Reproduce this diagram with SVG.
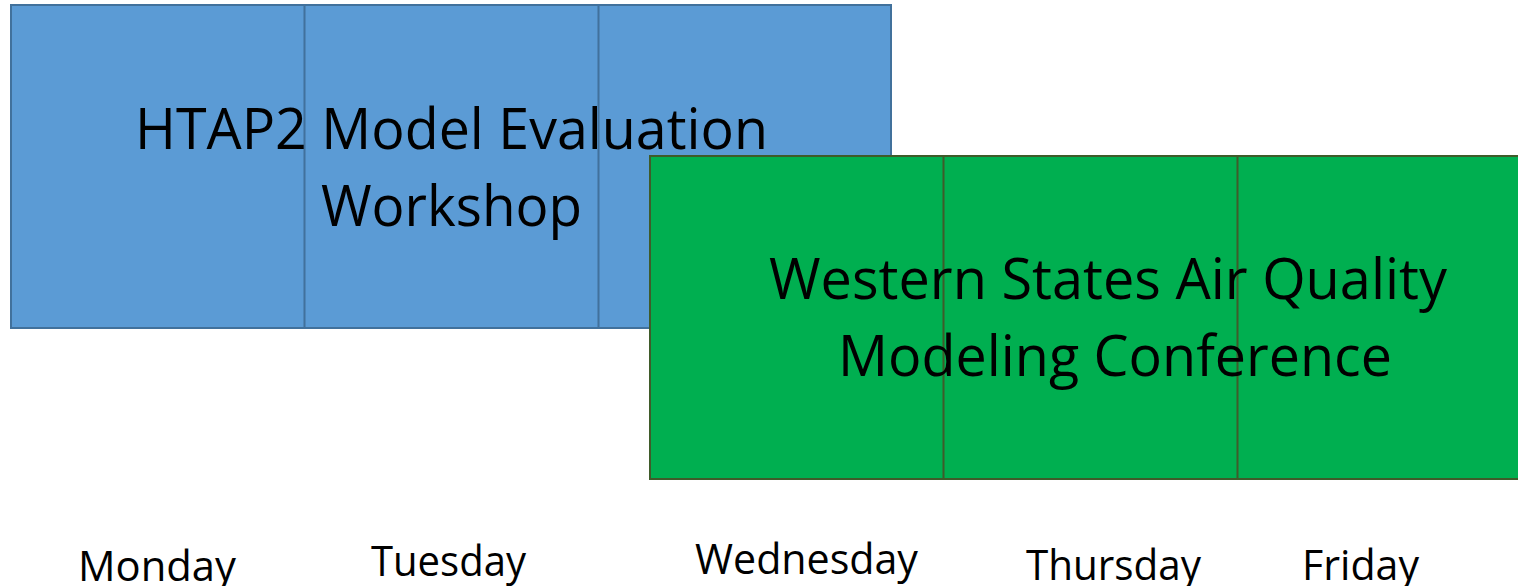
<svg xmlns="http://www.w3.org/2000/svg" width="1518" height="586" viewBox="0 0 1518 586">
  <style>
    .blue { fill: #5B9BD5; stroke: #41719C; stroke-width: 2; }
    .green { fill: #00AF50; stroke: #3F5B2A; stroke-width: 2; }
    .divb { stroke: #41719C; stroke-width: 2; }
    .divg { stroke: #3F5B2A; stroke-width: 2; }
    text { font-family: "Open Sans", "Liberation Sans", sans-serif; fill: #000; }
    .title { font-size: 57px; }
    .day { font-size: 42px; }
  </style>
  <rect width="1518" height="586" fill="#FFFFFF"/>

  <!-- HTAP2 workshop block: Monday to Wednesday -->
  <g id="htap2-workshop">
    <rect class="blue" x="11" y="5" width="880" height="323"/>
    <line class="divb" x1="304.5" y1="5" x2="304.5" y2="328"/>
    <line class="divb" x1="598.5" y1="5" x2="598.5" y2="328"/>
    <text class="title" x="135" y="149" textLength="633" lengthAdjust="spacingAndGlyphs">HTAP2 Model Evaluation</text>
    <text class="title" x="321" y="226" textLength="261" lengthAdjust="spacingAndGlyphs">Workshop</text>
  </g>

  <!-- Western States conference block: Wednesday to Friday -->
  <g id="wsaqm-conference">
    <rect class="green" x="650" y="156" width="880" height="323"/>
    <line class="divg" x1="943.5" y1="156" x2="943.5" y2="479"/>
    <line class="divg" x1="1237.5" y1="156" x2="1237.5" y2="479"/>
    <text class="title" x="769" y="299" textLength="678" lengthAdjust="spacingAndGlyphs">Western States Air Quality</text>
    <text class="title" x="838" y="376" textLength="554" lengthAdjust="spacingAndGlyphs">Modeling Conference</text>
  </g>

  <!-- Weekday labels -->
  <g id="days">
    <text class="day" x="78" y="581" textLength="158" lengthAdjust="spacingAndGlyphs">Monday</text>
    <text class="day" x="371" y="576" textLength="155" lengthAdjust="spacingAndGlyphs">Tuesday</text>
    <text class="day" x="695" y="574" textLength="223" lengthAdjust="spacingAndGlyphs">Wednesday</text>
    <text class="day" x="1026" y="580" textLength="175" lengthAdjust="spacingAndGlyphs">Thursday</text>
    <text class="day" x="1302" y="580" textLength="117" lengthAdjust="spacingAndGlyphs">Friday</text>
  </g>
</svg>
